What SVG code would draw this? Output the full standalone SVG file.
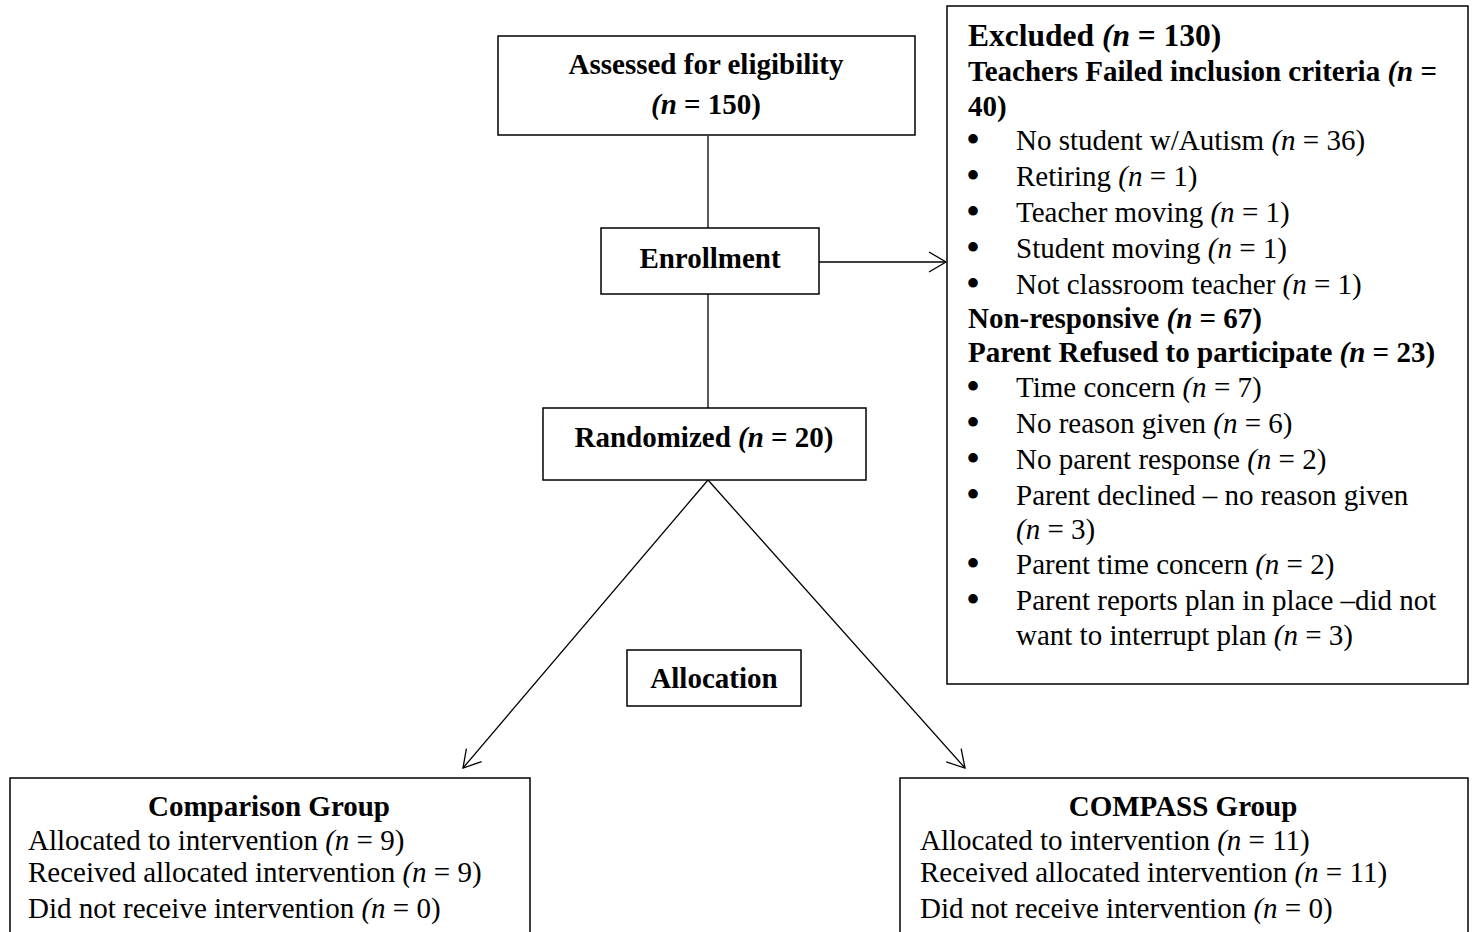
<svg xmlns="http://www.w3.org/2000/svg" width="1476" height="932" viewBox="0 0 1476 932">
<style>
.box{fill:#fff;stroke:#000;stroke-width:1.5}
.ln{fill:none;stroke:#000;stroke-width:1.3}
text{font-family:"Liberation Serif","Times New Roman",serif;font-size:29px;fill:#000}
.b{font-weight:bold}
.i{font-style:italic}
.c{text-anchor:middle}
.h{font-size:31.5px}
.bu{font-size:40px;text-anchor:middle}
</style>
<defs>
<marker id="arr" markerUnits="userSpaceOnUse" markerWidth="20" markerHeight="22" refX="17" refY="10" orient="auto" overflow="visible">
<path d="M0,0 L17,10 L0,20" fill="none" stroke="#000" stroke-width="1.3"/>
</marker>
</defs>
<rect width="1476" height="932" fill="#fff"/>
<g id="connectors">
<line class="ln" x1="708" y1="136" x2="708" y2="228"/>
<line class="ln" x1="708" y1="294" x2="708" y2="408"/>
<line class="ln" x1="819" y1="262" x2="946" y2="262" marker-end="url(#arr)"/>
<line class="ln" x1="708" y1="480" x2="463" y2="768" marker-end="url(#arr)"/>
<line class="ln" x1="708" y1="480" x2="965" y2="768" marker-end="url(#arr)"/>
</g>
<g id="assessed">
<rect class="box" x="498" y="36" width="417" height="99"/>
<text class="b c" x="706" y="74">Assessed for eligibility</text>
<text class="b c" x="706" y="114"><tspan class="i">(n</tspan> = 150)</text>
</g>
<g id="enrollment">
<rect class="box" x="601" y="228" width="218" height="66"/>
<text class="b c" x="710" y="268">Enrollment</text>
</g>
<g id="randomized">
<rect class="box" x="543" y="408" width="323" height="72"/>
<text class="b c" x="704" y="447">Randomized <tspan class="i">(n</tspan> = 20)</text>
</g>
<g id="allocation">
<rect class="box" x="627" y="650" width="174" height="56"/>
<text class="b c" x="714" y="688">Allocation</text>
</g>
<g id="excluded">
<rect class="box" x="947" y="6" width="521" height="678"/>
<text class="b h" x="968" y="46">Excluded <tspan class="i">(n</tspan> = 130)</text>
<text class="b" x="968" y="81">Teachers Failed inclusion criteria <tspan class="i">(n</tspan> =</text>
<text class="b" x="968" y="116">40)</text>
<text class="bu" x="973" y="153">•</text><text x="1016" y="150">No student w/Autism <tspan class="i">(n</tspan> = 36)</text>
<text class="bu" x="973" y="189">•</text><text x="1016" y="186">Retiring <tspan class="i">(n</tspan> = 1)</text>
<text class="bu" x="973" y="225">•</text><text x="1016" y="222">Teacher moving <tspan class="i">(n</tspan> = 1)</text>
<text class="bu" x="973" y="261">•</text><text x="1016" y="258">Student moving <tspan class="i">(n</tspan> = 1)</text>
<text class="bu" x="973" y="297">•</text><text x="1016" y="294">Not classroom teacher <tspan class="i">(n</tspan> = 1)</text>
<text class="b" x="968" y="328">Non-responsive <tspan class="i">(n</tspan> = 67)</text>
<text class="b" x="968" y="362">Parent Refused to participate <tspan class="i">(n</tspan> = 23)</text>
<text class="bu" x="973" y="400">•</text><text x="1016" y="397">Time concern <tspan class="i">(n</tspan> = 7)</text>
<text class="bu" x="973" y="436">•</text><text x="1016" y="433">No reason given <tspan class="i">(n</tspan> = 6)</text>
<text class="bu" x="973" y="472">•</text><text x="1016" y="469">No parent response <tspan class="i">(n</tspan> = 2)</text>
<text class="bu" x="973" y="508">•</text><text x="1016" y="505">Parent declined – no reason given</text>
<text x="1016" y="539"><tspan class="i">(n</tspan> = 3)</text>
<text class="bu" x="973" y="577">•</text><text x="1016" y="574">Parent time concern <tspan class="i">(n</tspan> = 2)</text>
<text class="bu" x="973" y="613">•</text><text x="1016" y="610">Parent reports plan in place –did not</text>
<text x="1016" y="645">want to interrupt plan <tspan class="i">(n</tspan> = 3)</text>
</g>
<g id="comparison">
<rect class="box" x="10" y="778" width="520" height="200"/>
<text class="b c" x="269" y="816">Comparison Group</text>
<text x="28" y="850">Allocated to intervention <tspan class="i">(n</tspan> = 9)</text>
<text x="28" y="882">Received allocated intervention <tspan class="i">(n</tspan> = 9)</text>
<text x="28" y="918">Did not receive intervention <tspan class="i">(n</tspan> = 0)</text>
</g>
<g id="compass">
<rect class="box" x="900" y="778" width="568" height="200"/>
<text class="b c" x="1183" y="816">COMPASS Group</text>
<text x="920" y="850">Allocated to intervention <tspan class="i">(n</tspan> = 11)</text>
<text x="920" y="882">Received allocated intervention <tspan class="i">(n</tspan> = 11)</text>
<text x="920" y="918">Did not receive intervention <tspan class="i">(n</tspan> = 0)</text>
</g>
</svg>
